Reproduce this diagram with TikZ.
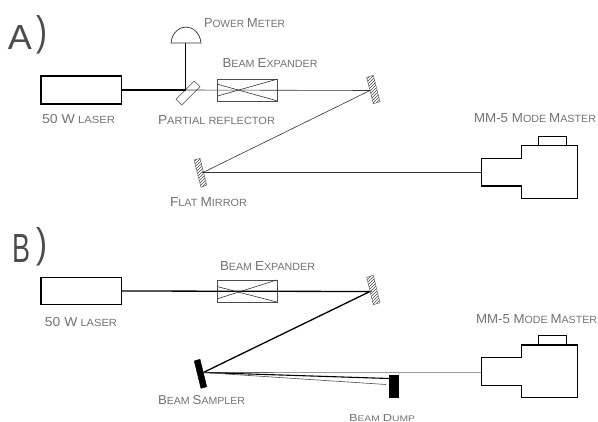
\documentclass[tikz,border=0pt]{standalone}
\usepackage{fontspec}
\usepackage{graphicx}
\usetikzlibrary{patterns}
\setmainfont{Liberation Sans}
\newcommand\sml[2]{{\fontsize{12.5}{12.5}\selectfont #1}{\fontsize{10}{10}\selectfont #2}}
\tikzset{
  box/.style={draw=black,line width=1.3pt,inner sep=0pt,outer sep=0pt},
  xpand/.style={draw=black!70,line width=0.6pt,inner sep=0pt,outer sep=0pt,minimum width=59.5pt,minimum height=22pt},
  thickbeam/.style={line width=1.5pt,black},
  thinbeam/.style={line width=0.6pt,black!80},
  mirror/.style={draw=black!60,line width=0.5pt,pattern=north east lines,pattern color=black!70},
  blackmirror/.style={draw=black,fill=black,line width=0.5pt},
  lab/.style={anchor=base west,inner sep=0pt,outer sep=0pt,text=black!55},
  big/.style={anchor=base west,inner sep=0pt,outer sep=0pt,text=black!70},
  case/.style={line width=1.1pt,black,line join=miter}
}
\begin{document}
\begin{tikzpicture}[x=1pt,y=-1pt]
\useasboundingbox (0,0) rectangle (598,422);
\fill[white] (0,0) rectangle (598,422);
% ---- Panel A
\node[big] (titleA) at (8,50) {\resizebox{24pt}{24pt}{A}};
\node[big] (parenA) at (36.5,45.5) {\resizebox{11pt}{30pt}{)}};
\node[box,minimum width=80.5pt,minimum height=28pt] (laserA) at (81.2,90) {};
\coordinate (junction) at (185.5,90);
\coordinate (meterbase) at (185.5,43);
\coordinate (mirAhit) at (370,90.5);
\coordinate (flathit) at (203,172.5);
\coordinate (mmAin) at (481.3,172.5);
\draw[line width=0.5pt,draw=black!70] (176,99.3) -- (181.7,105) -- (200,86.7) -- (194.3,81) -- cycle;
\node[xpand] (expA) at (247.3,90.5) {};
\draw[thinbeam] (junction) -- (mirAhit);
\draw[thinbeam] (217.7,84.3) -- (276.7,100.7);
\draw[thinbeam] (217.7,96) -- (276.7,79.3);
\draw[thickbeam] (laserA.east) -- (junction) -- (meterbase);
\draw[line width=0.7pt,black!80] (171,43) .. controls (172,32) and (180,27) .. (186,27) .. controls (192,27) and (200,32) .. (201,43) -- cycle;
\draw[mirror] (366.7,77.3) -- (373.3,75.3) -- (380,101.7) -- (373.3,103.7) -- cycle;
\draw[mirror] (194,160) -- (200,158.3) -- (206.7,185) -- (201,187.3) -- cycle;
\draw[thinbeam] (mirAhit) -- (flathit) -- (mmAin);
\draw[case] (481.3,158.7) -- (521.7,158.7) -- (521.7,145.7) -- (577.7,145.7) -- (577.7,198.7) -- (521.7,198.7) -- (521.7,186) -- (481.3,186) -- cycle;
\draw[line width=0.9pt,black] (538.3,145.7) -- (538.3,136) -- (566,136) -- (566,145.7);
\node[lab] (lPower) at (204,28) {\resizebox{81pt}{9pt}{\sml{P}{OWER} \sml{M}{ETER}}};
\node[lab] (lExpA) at (222.5,67.7) {\resizebox{95pt}{9pt}{\sml{B}{EAM} \sml{E}{XPANDER}}};
\node[lab] (lLaserA) at (42,124) {\resizebox{73pt}{9pt}{\sml{50 W}{ LASER}}};
\node[lab] (lPart) at (158,124.7) {\resizebox{117pt}{9pt}{\sml{P}{ARTIAL REFLECTOR}}};
\node[lab] (lFlat) at (170,207) {\resizebox{77pt}{9pt}{\sml{F}{LAT} \sml{M}{IRROR}}};
\node[lab] (lMMA) at (474,122.7) {\resizebox{122pt}{9pt}{\sml{MM-5 M}{ODE} \sml{M}{ASTER}}};
% ---- Panel B
\node[big] (titleB) at (12.5,263) {\resizebox{18pt}{28pt}{B}};
\node[big] (parenB) at (36,257.5) {\resizebox{11pt}{30pt}{)}};
\node[box,minimum width=80.5pt,minimum height=27.4pt] (laserB) at (81.2,291) {};
\coordinate (mirBhit) at (370,291.5);
\coordinate (samphit) at (203.3,372.5);
\coordinate (mmBin) at (481.3,372.7);
\coordinate (dumpin) at (389,378.5);
\coordinate (dumplow) at (386,384.5);
\node[xpand,minimum height=22.3pt] (expB) at (247.3,291.1) {};
\draw[thickbeam,line width=1.3pt] (laserB.east) -- (mirBhit) -- (samphit);
\draw[thinbeam] (217.7,286.7) -- (276.7,302);
\draw[thinbeam] (217.7,298.7) -- (276.7,280);
\draw[mirror] (366.7,277.3) -- (373.3,275.3) -- (380,302.7) -- (373.3,304.7) -- cycle;
\draw[blackmirror] (194.3,361) -- (200,359.3) -- (206.7,386.7) -- (201,388.3) -- cycle;
\draw[line width=0.6pt,black!60] (samphit) -- (mmBin);
\draw[line width=1.1pt,black] (samphit) -- (dumpin);
\draw[line width=0.6pt,black!70] (samphit) -- (dumplow);
\node[fill=black,inner sep=0pt,outer sep=0pt,minimum width=10.3pt,minimum height=23pt] (dump) at (394.2,386.5) {};
\draw[case] (481.3,357.7) -- (521.7,357.7) -- (521.7,345) -- (577.3,345) -- (577.3,397.3) -- (521.7,397.3) -- (521.7,385.3) -- (481.3,385.3) -- cycle;
\draw[line width=0.9pt,black] (538.3,345) -- (538.3,335.3) -- (566,335.3) -- (566,345);
\node[lab] (lExpB) at (220,270.7) {\resizebox{95pt}{9pt}{\sml{B}{EAM} \sml{E}{XPANDER}}};
\node[lab] (lLaserB) at (45,326.7) {\resizebox{72pt}{9pt}{\sml{50 W}{ LASER}}};
\node[lab] (lSamp) at (158,405) {\resizebox{87pt}{9pt}{\sml{B}{EAM} \sml{S}{AMPLER}}};
\node[lab] (lMMB) at (476,323.3) {\resizebox{121pt}{9pt}{\sml{MM-5 M}{ODE} \sml{M}{ASTER}}};
\node[lab] (lDump) at (349,421) {\resizebox{66pt}{7pt}{\sml{B}{EAM} \sml{D}{UMP}}};
\end{tikzpicture}
\end{document}
